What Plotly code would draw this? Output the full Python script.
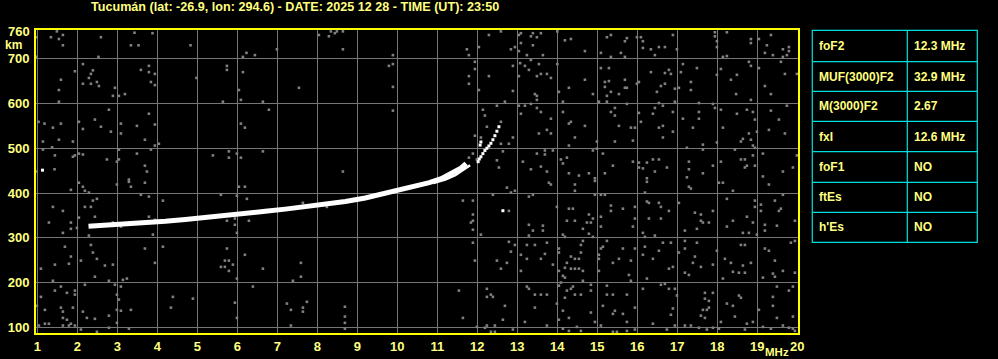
import plotly.graph_objects as go

TITLE = "Tucumán (lat: -26.9, lon: 294.6) - DATE: 2025 12 28 - TIME (UT): 23:50"
freq_ticks = list(range(1, 21))
height_ticks = [100, 200, 300, 400, 500, 600, 700]
height_top_label = 760

table_labels = ["foF2", "MUF(3000)F2", "M(3000)F2", "fxI", "foF1", "ftEs", "h'Es"]
table_values = ["12.3 MHz", "32.9 MHz", "2.67", "12.6 MHz", "NO", "NO", "NO"]

# F2 ordinary trace (MHz, km)
o_trace_f = [2.28, 2.7, 3.2, 3.7, 4.2, 4.7, 5.2, 5.7, 6.2, 6.7, 7.2, 7.7, 8.2, 8.7, 9.2, 9.6, 10.0, 10.4, 10.8, 11.1, 11.4, 11.6, 11.72]
o_trace_h = [326, 328, 330, 334, 337, 341, 345, 350, 355, 359, 364, 369, 375, 381, 389, 397, 405, 414, 423, 432, 445, 456, 466]
# second strand near the cusp
x_trace_f = [10.9, 11.2, 11.45, 11.65, 11.82]
x_trace_h = [422, 430, 440, 452, 462]
# thin upper branch
up_trace_f = [12.02, 12.05, 12.09, 12.14, 12.19, 12.24, 12.29, 12.34, 12.39, 12.44, 12.49, 12.54, 12.07, 12.09]
up_trace_h = [470, 476, 481, 488, 495, 500, 505, 511, 519, 528, 538, 548, 507, 514]
# isolated bright echoes
bright_f = [1.13, 12.64]
bright_h = [451, 360.5]

# background noise echoes (MHz, km)
noise_dots = [
    (0.98, 748), (1.34, 748), (1.49, 761), (1.54, 744), (1.64, 753), (1.64, 730), (2.59, 748), (3.43, 758), (3.88, 757),
    (3.34, 730), (3.53, 730), (4.83, 730), (2.53, 704), (0.98, 704), (6.23, 713), (6.14, 704), (6.44, 708), (6.99, 721),
    (2.14, 688), (1.94, 672), (2.39, 674), (2.34, 666), (2.29, 657), (2.49, 648), (2.54, 639), (2.34, 644), (2.14, 644),
    (1.59, 653), (1.54, 630), (1.54, 604), (2.94, 635), (2.89, 617), (3.04, 617), (3.19, 621), (3.59, 675), (3.79, 684),
    (3.79, 670), (3.94, 666), (3.84, 648), (3.94, 641), (4.98, 657), (5.74, 684), (5.74, 675), (6.14, 670), (6.04, 630),
    (6.09, 608), (5.64, 604), (6.64, 604), (6.79, 586), (2.79, 586), (3.79, 577), (1.03, 559), (1.18, 555), (1.39, 546),
    (1.59, 555), (2.04, 559), (2.14, 543), (2.44, 564), (2.59, 548), (3.09, 555), (3.49, 550), (3.94, 553), (2.84, 537),
    (3.09, 533), (3.69, 519), (4.04, 510), (3.94, 506), (3.84, 497), (6.09, 555), (6.19, 546), (1.14, 515), (1.54, 519),
    (1.89, 515), (1.14, 497), (1.37, 502), (1.44, 484), (1.89, 481), (1.94, 484), (2.04, 488), (2.14, 486), (3.04, 497),
    (3.49, 488), (2.74, 475), (3.04, 475), (2.99, 470), (3.69, 461), (3.74, 448), (1.43, 453), (0.98, 448), (3.29, 430),
    (5.39, 484), (5.79, 493), (5.79, 479), (5.99, 488), (6.09, 479), (6.64, 493),
    (8.04, 753), (8.29, 750), (8.34, 761), (8.44, 757), (8.49, 761), (8.64, 761), (8.64, 721), (9.89, 708), (9.79, 684),
    (9.89, 688), (7.54, 635), (9.89, 637), (9.89, 584), (8.64, 448), (12.29, 753), (12.59, 761), (11.74, 721), (11.79, 708),
    (12.04, 726), (11.94, 693), (11.94, 677), (11.79, 661), (11.79, 644), (12.04, 630), (12.29, 661), (13.04, 753),
    (13.09, 757), (13.34, 750), (13.39, 757), (13.49, 748), (13.59, 757), (12.94, 726), (13.04, 717), (13.09, 735),
    (13.39, 730), (12.84, 721), (13.24, 708), (13.64, 708), (13.07, 690), (12.89, 684), (13.19, 684), (13.29, 675),
    (13.54, 688), (13.34, 697), (13.49, 661), (13.59, 666), (13.04, 661), (12.89, 628), (13.44, 621), (13.49, 608),
    (13.49, 617), (13.34, 599), (13.19, 595), (12.69, 604), (12.49, 595), (13.04, 595), (13.09, 577), (13.49, 590),
    (13.59, 581), (12.14, 586), (12.19, 573), (12.59, 559), (12.24, 548), (11.94, 528), (12.09, 524), (12.89, 524),
    (12.59, 510), (12.79, 510), (12.64, 493), (12.54, 457), (12.49, 473), (13.14, 470), (13.34, 453), (13.54, 533),
    (13.49, 488), (13.59, 459), (11.89, 488), (11.79, 479), (11.99, 475),
    (14.0, 761), (14.19, 741), (14.34, 744), (14.69, 717), (15.24, 748), (15.34, 753), (15.74, 746), (15.69, 739),
    (15.09, 713), (15.34, 704), (15.59, 713), (15.69, 704), (15.99, 748), (16.09, 748), (16.14, 739), (16.14, 724),
    (16.34, 721), (16.44, 708), (16.54, 726), (16.69, 726), (16.89, 753), (16.99, 721), (17.94, 759), (17.94, 750),
    (17.99, 739), (17.99, 726), (18.24, 759), (18.14, 704), (18.24, 706), (18.84, 744), (18.84, 735), (19.04, 744),
    (19.34, 753), (19.24, 730), (19.19, 713), (19.39, 708), (19.64, 721), (19.79, 726), (19.79, 717), (19.74, 708),
    (19.64, 704), (14.0, 688), (13.74, 666), (13.84, 657), (14.69, 653), (14.29, 635), (14.04, 626), (14.89, 621),
    (14.14, 604), (15.09, 679), (15.29, 679), (15.19, 648), (15.29, 650), (15.19, 637), (15.69, 653), (15.69, 635),
    (15.74, 635), (15.34, 626), (15.24, 617), (15.54, 621), (15.24, 604), (15.04, 604), (15.99, 644), (16.04, 648),
    (16.34, 670), (16.69, 668), (16.79, 675), (16.84, 666), (16.59, 639), (16.69, 644), (16.49, 626), (16.94, 633),
    (17.04, 635), (17.09, 670), (17.14, 688), (17.49, 679), (17.34, 648), (17.34, 630), (18.09, 677), (17.99, 664),
    (18.34, 653), (18.49, 664), (18.79, 693), (18.84, 684), (19.04, 679), (19.59, 693), (19.69, 666), (19.19, 639),
    (19.34, 621), (18.47, 621), (18.84, 608), (19.99, 666), (16.54, 601), (16.94, 604), (16.64, 595), (16.44, 590),
    (16.89, 581), (16.39, 577), (16.04, 579), (15.74, 599), (15.44, 590), (15.34, 581), (15.44, 573), (13.84, 566),
    (14.14, 581), (14.34, 559), (14.29, 555), (14.69, 550), (13.74, 541), (13.84, 533), (14.44, 524), (14.29, 506),
    (14.99, 515), (15.44, 515), (15.54, 550), (15.84, 546), (15.94, 546), (15.89, 517), (16.09, 559), (16.54, 546),
    (16.64, 550), (16.89, 537), (16.64, 524), (17.54, 601), (17.54, 581), (17.54, 566), (17.14, 566), (17.39, 546),
    (17.94, 590), (17.89, 599), (18.09, 586), (18.49, 577), (18.74, 586), (18.89, 581), (18.94, 564), (18.79, 533),
    (18.64, 521), (18.59, 515), (18.84, 519), (18.14, 546), (17.99, 513), (18.99, 537), (18.89, 506), (18.94, 501),
    (19.34, 584), (19.29, 541), (19.54, 564), (19.74, 595), (19.69, 533), (14.99, 499), (14.89, 495), (13.69, 495),
    (13.69, 486), (13.89, 495), (14.09, 475), (14.24, 479), (14.14, 466), (13.74, 448), (14.29, 444), (14.54, 439),
    (14.79, 444), (14.94, 433), (15.14, 488), (15.19, 444), (15.39, 461), (15.89, 470), (16.04, 468), (16.14, 455),
    (16.24, 468), (16.04, 457), (16.24, 433), (16.39, 475), (16.54, 475), (16.44, 448), (16.74, 457), (17.24, 501),
    (17.29, 470), (17.29, 453), (17.24, 435), (17.64, 508), (17.64, 497), (17.64, 444), (17.89, 461), (18.09, 470),
    (18.44, 497), (18.59, 475), (18.69, 475), (18.74, 461), (18.69, 457), (18.94, 461), (18.89, 484), (19.14, 488),
    (19.14, 437), (19.64, 448), (19.89, 457), (19.99, 484),
    (1.84, 407), (2.04, 423), (2.14, 414), (2.19, 405), (2.29, 401), (2.99, 419), (3.29, 425), (3.34, 414), (3.69, 423),
    (3.59, 396), (3.79, 392), (4.14, 383), (1.39, 369), (1.64, 360), (2.19, 369), (2.34, 369), (2.39, 383), (2.49, 387),
    (2.44, 347), (2.04, 345), (1.84, 334), (1.84, 320), (1.29, 334), (1.64, 311), (2.29, 305), (1.99, 322), (2.89, 334),
    (3.09, 325), (3.79, 347), (3.94, 340), (3.89, 307), (4.14, 280), (3.69, 276), (1.69, 280), (2.34, 284), (2.39, 267),
    (2.49, 253), (2.09, 249), (1.84, 258), (1.79, 242), (1.44, 240), (1.09, 231), (2.69, 238), (2.89, 240), (1.39, 204),
    (2.44, 213), (2.79, 204), (3.14, 206), (3.24, 209), (2.19, 195), (2.94, 195), (3.09, 191), (3.94, 244), (5.74, 276),
    (6.19, 262), (6.64, 231), (5.69, 249), (5.79, 249), (5.59, 235), (5.69, 235), (5.79, 226), (5.89, 240), (5.99, 209),
    (6.39, 191), (5.94, 155), (5.99, 121), (7.24, 153), (5.59, 396), (5.99, 394), (6.24, 387), (6.04, 414), (6.19, 414),
    (5.94, 343), (5.94, 329), (5.99, 311), (6.29, 338), (5.74, 338), (1.09, 168), (1.44, 182), (1.59, 191), (1.74, 177),
    (1.94, 182), (1.94, 173), (1.59, 144), (1.64, 135), (1.19, 139), (2.99, 173), (3.04, 162), (1.89, 144), (2.14, 135),
    (2.24, 121), (2.44, 119), (2.79, 126), (2.99, 139), (3.09, 137), (3.34, 139), (1.64, 121), (1.74, 117), (1.84, 108),
    (1.79, 104), (1.19, 108), (1.29, 108), (1.64, 104), (1.94, 104), (2.09, 95), (2.79, 99), (2.99, 110), (3.29, 97),
    (2.49, 90), (4.39, 168), (4.34, 144), (4.89, 164), (1.04, 104), (0.99, 148),
    (12.74, 412), (12.39, 396), (12.84, 401), (12.94, 405), (13.29, 392), (13.39, 396), (11.64, 383), (11.89, 383),
    (12.79, 360), (11.89, 352), (11.89, 338), (11.84, 334), (11.89, 318), (12.09, 307), (13.29, 329), (13.39, 316),
    (13.29, 305), (13.64, 327), (13.64, 316), (11.89, 289), (12.79, 291), (12.94, 284), (13.24, 284), (13.44, 284),
    (12.84, 269), (13.09, 262), (13.24, 253), (13.59, 253), (12.49, 249), (12.74, 244), (12.59, 231), (13.09, 226),
    (11.94, 249), (7.59, 244), (7.59, 213), (7.39, 204), (11.54, 182), (12.24, 186), (12.34, 173), (12.24, 168),
    (12.39, 168), (13.24, 191), (13.29, 186), (13.44, 173), (13.59, 173), (12.69, 148), (13.44, 144), (11.64, 121),
    (12.64, 117), (13.19, 112), (7.74, 157), (7.64, 144), (7.64, 135), (7.34, 139), (8.69, 146), (8.69, 124),
    (8.69, 110), (8.69, 97), (7.34, 104), (11.99, 101), (12.24, 104), (12.44, 104), (12.19, 99), (12.34, 90),
    (12.44, 90), (12.89, 95), (7.64, 378), (8.24, 369),
    (13.79, 423), (13.84, 419), (14.44, 419), (14.44, 405), (14.94, 427), (16.24, 425), (17.29, 414), (17.34, 410),
    (18.04, 423), (18.14, 423), (18.39, 405), (19.29, 419), (14.94, 396), (15.09, 396), (15.19, 396), (16.19, 401),
    (16.24, 381), (16.29, 378), (16.54, 378), (16.59, 369), (16.79, 360), (17.04, 378), (13.99, 369), (14.29, 365),
    (14.39, 365), (14.79, 352), (14.89, 343), (14.74, 334), (14.84, 334), (14.24, 338), (14.44, 338), (14.64, 320),
    (14.79, 309), (14.14, 307), (14.19, 302), (14.89, 302), (15.34, 372), (15.34, 360), (15.64, 365), (15.09, 347),
    (15.09, 325), (15.94, 343), (15.89, 325), (15.94, 369), (16.29, 343), (16.59, 343), (16.14, 311), (16.19, 302),
    (16.44, 305), (17.19, 316), (17.44, 356), (17.59, 352), (17.59, 338), (17.64, 334), (17.79, 334), (17.89, 360),
    (17.49, 320), (18.24, 387), (18.39, 338), (18.24, 325), (18.64, 311), (18.74, 347), (18.79, 311), (18.89, 334),
    (18.94, 383), (18.94, 369), (18.99, 307), (19.09, 374), (19.09, 360), (19.44, 383), (19.54, 360), (19.59, 365),
    (19.64, 396), (19.19, 329), (19.19, 316), (19.49, 327), (19.94, 338), (13.74, 289), (14.04, 276), (14.04, 267),
    (14.64, 293), (14.59, 284), (14.59, 267), (14.34, 258), (14.24, 244), (14.44, 253), (14.54, 253), (14.19, 233),
    (13.89, 240), (13.69, 264), (14.34, 231), (14.44, 231), (14.54, 231), (14.64, 226), (14.04, 226), (14.14, 215),
    (14.19, 211), (14.64, 204), (15.09, 276), (15.04, 262), (15.04, 253), (15.24, 293), (15.14, 280), (15.04, 226),
    (15.39, 244), (15.54, 253), (15.64, 276), (15.84, 249), (15.94, 276), (15.79, 217), (15.84, 204), (16.19, 280),
    (16.14, 262), (16.39, 253), (16.54, 271), (16.64, 289), (16.84, 289), (16.79, 231), (16.89, 235), (16.24, 209),
    (17.04, 267), (17.19, 293), (17.19, 276), (17.19, 222), (17.29, 217), (17.49, 289), (17.44, 258), (17.39, 244),
    (17.59, 235), (17.89, 240), (17.99, 271), (18.19, 253), (18.34, 244), (18.39, 224), (18.54, 222), (18.64, 238),
    (18.59, 284), (18.69, 284), (18.84, 244), (18.69, 222), (18.14, 209), (19.19, 276), (19.29, 271), (19.44, 249),
    (19.64, 226), (19.84, 289), (19.94, 293), (19.94, 222), (19.14, 211), (19.39, 220), (19.44, 213), (14.04, 193),
    (14.09, 200), (14.24, 182), (14.34, 186), (14.39, 191), (14.44, 173), (14.59, 173), (14.84, 195), (14.84, 182),
    (13.74, 173), (14.19, 166), (13.99, 153), (14.14, 137), (14.29, 121), (14.04, 117), (14.84, 133), (14.94, 112),
    (14.49, 101), (14.29, 92), (14.14, 97), (14.59, 92), (13.74, 104), (15.24, 193), (15.24, 173), (15.39, 173),
    (15.74, 173), (15.14, 148), (15.44, 137), (15.39, 130), (15.64, 130), (15.74, 112), (15.09, 104), (15.39, 90),
    (15.49, 90), (15.74, 92), (15.94, 95), (16.14, 186), (16.59, 195), (16.69, 197), (16.79, 186), (16.94, 186),
    (16.99, 171), (15.94, 144), (16.89, 142), (16.84, 128), (16.39, 108), (16.74, 95), (16.94, 104), (17.19, 104),
    (17.34, 104), (17.69, 177), (17.89, 177), (17.69, 164), (17.79, 159), (17.74, 139), (17.79, 144), (17.64, 139),
    (17.59, 126), (17.69, 121), (17.74, 95), (17.89, 99), (17.54, 99), (18.09, 112), (18.04, 97), (18.24, 153),
    (18.39, 148), (18.44, 124), (18.59, 166), (18.69, 95), (18.54, 171), (18.89, 112), (18.74, 108), (19.04, 139),
    (19.14, 101), (19.39, 168), (19.39, 148), (19.49, 191), (19.49, 121), (19.79, 182), (19.89, 191), (19.89, 124),
    (19.64, 104), (19.34, 97), (19.79, 99), (19.94, 92), (19.89, 97),
]
noise_f = [p[0] for p in noise_dots]
noise_h = [p[1] for p in noise_dots]

# ---------------- layout geometry (pixels) ----------------
W, H = 998, 359
PL, PR, PT, PB = 36, 798, 30, 333          # plot area edges
X_RANGE = [0.9675, 20.0175]
Y_RANGE = [87.3, 764.1]
TEXT = "#ffff80"
FRAME = "#ffff00"
GRID = "#767676"
CYAN = "#00e0e0"
FONT = "Liberation Sans"


def px_x(p):
    return (p - PL) / (PR - PL)


def px_y(p):
    return (PB - p) / (PB - PT)


fig = go.Figure()
fig.add_trace(go.Scatter(x=noise_f, y=noise_h, mode="markers",
                         marker=dict(symbol="square", size=2.6, color="#808080", line=dict(width=0)),
                         hoverinfo="skip", showlegend=False))
fig.add_trace(go.Scatter(x=o_trace_f, y=o_trace_h, mode="lines",
                         line=dict(color="white", width=5), hoverinfo="skip", showlegend=False))
fig.add_trace(go.Scatter(x=x_trace_f, y=x_trace_h, mode="lines",
                         line=dict(color="white", width=2.5), hoverinfo="skip", showlegend=False))
fig.add_trace(go.Scatter(x=up_trace_f, y=up_trace_h, mode="markers",
                         marker=dict(symbol="square", size=3, color="white", line=dict(width=0)),
                         hoverinfo="skip", showlegend=False))
fig.add_trace(go.Scatter(x=bright_f, y=bright_h, mode="markers",
                         marker=dict(symbol="square", size=3, color="white", line=dict(width=0)),
                         hoverinfo="skip", showlegend=False))

tick_font = dict(family=FONT, size=13, color=TEXT, weight="bold")
fig.update_layout(
    width=W, height=H,
    margin=dict(l=PL, r=W - PR, t=PT, b=H - PB, pad=0, autoexpand=False),
    paper_bgcolor="black", plot_bgcolor="black",
    showlegend=False,
    xaxis=dict(range=X_RANGE, tickvals=freq_ticks, ticktext=[str(v) for v in freq_ticks],
               showgrid=True, gridcolor=GRID, gridwidth=1, zeroline=False,
               showline=True, linecolor=FRAME, linewidth=2, mirror=True, automargin=False,
               ticks="", tickfont=tick_font, fixedrange=True, ticklabelstandoff=0),
    yaxis=dict(range=Y_RANGE, tickvals=height_ticks, ticktext=[str(v) for v in height_ticks],
               showgrid=True, gridcolor=GRID, gridwidth=1, zeroline=False,
               showline=True, linecolor=FRAME, linewidth=2, mirror=True, automargin=False,
               ticks="", tickfont=tick_font, fixedrange=True, ticklabelstandoff=2),
)

annotations = [
    dict(text=TITLE, x=px_x(294.5), y=px_y(7), xref="paper", yref="paper", showarrow=False,
         xanchor="center", yanchor="middle", font=dict(family=FONT, size=12.6, color=TEXT, weight="bold")),
    dict(text=str(height_top_label), x=px_x(32), y=px_y(31), xref="paper", yref="paper", showarrow=False,
         xanchor="right", yanchor="middle", font=tick_font),
    dict(text="km", x=px_x(13.5), y=px_y(45), xref="paper", yref="paper", showarrow=False,
         xanchor="center", yanchor="middle", font=dict(family=FONT, size=12, color=TEXT, weight="bold")),
    dict(text="MHz", x=px_x(777), y=px_y(352), xref="paper", yref="paper", showarrow=False,
         xanchor="center", yanchor="middle", font=dict(family=FONT, size=11.5, color=TEXT, weight="bold")),
]

# parameter table on the right
row_edges = [30.3, 61.7, 91.3, 121.3, 151.7, 182.3, 212.3, 242.3]
t_left, t_mid, t_right = 812.3, 907.3, 977.3
shapes = [dict(type="rect", xref="paper", yref="paper", x0=px_x(t_left), x1=px_x(t_right),
               y0=px_y(row_edges[0]), y1=px_y(row_edges[-1]), line=dict(color=CYAN, width=1.2))]
shapes.append(dict(type="line", xref="paper", yref="paper", x0=px_x(t_mid), x1=px_x(t_mid),
                   y0=px_y(row_edges[0]), y1=px_y(row_edges[-1]), line=dict(color=CYAN, width=1.2)))
for yb in row_edges[1:-1]:
    shapes.append(dict(type="line", xref="paper", yref="paper", x0=px_x(t_left), x1=px_x(t_right),
                       y0=px_y(yb), y1=px_y(yb), line=dict(color=CYAN, width=1.2)))
cell_font = dict(family=FONT, size=12, color=TEXT, weight="bold")
for i, (lab, val) in enumerate(zip(table_labels, table_values)):
    yc = (row_edges[i] + row_edges[i + 1]) / 2
    annotations.append(dict(text=lab, x=px_x(817), y=px_y(yc), xref="paper", yref="paper", showarrow=False,
                            xanchor="left", yanchor="middle", font=cell_font))
    annotations.append(dict(text=val, x=px_x(912), y=px_y(yc), xref="paper", yref="paper", showarrow=False,
                            xanchor="left", yanchor="middle", font=cell_font))

fig.update_layout(annotations=annotations, shapes=shapes)
fig.write_html("out.html", config={"displayModeBar": False})
